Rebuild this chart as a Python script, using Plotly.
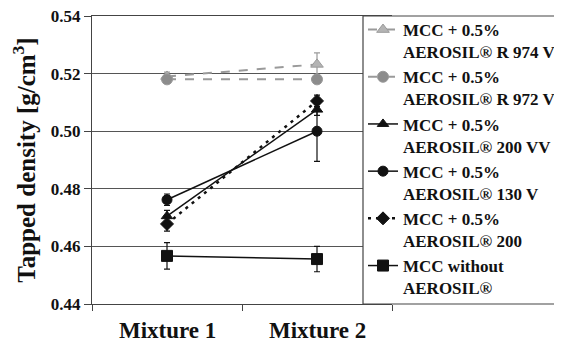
import plotly.graph_objects as go

categories = ["Mixture 1", "Mixture 2"]
x_pos = [0.5, 1.5]

series_names = [
    "MCC + 0.5%<br>AEROSIL® R 974 V",
    "MCC + 0.5%<br>AEROSIL® R 972 V",
    "MCC + 0.5%<br>AEROSIL® 200 VV",
    "MCC + 0.5%<br>AEROSIL® 130 V",
    "MCC + 0.5%<br>AEROSIL® 200",
    "MCC without<br>AEROSIL®",
]
r974v = [0.5190, 0.5232]
r974v_err = [0.0015, 0.0040]
r972v = [0.5180, 0.5180]
r972v_err = [0.0008, 0.0008]
a200vv = [0.4705, 0.5075]
a200vv_err = [0.0020, 0.0020]
a130v = [0.4762, 0.5000]
a130v_err = [0.0020, 0.0105]
a200 = [0.4678, 0.5105]
a200_err = [0.0025, 0.0020]
without = [0.4567, 0.4556]
without_err = [0.0046, 0.0044]

y_ticks = [0.44, 0.46, 0.48, 0.50, 0.52, 0.54]

styles = [
    dict(vals=r974v, err=r974v_err, color="#9a9a9a", mcolor="#b4b4b4", dash="dash", symbol="triangle-up", size=11, lw=2),
    dict(vals=r972v, err=r972v_err, color="#9a9a9a", mcolor="#8c8c8c", dash="dash", symbol="circle", size=11, lw=2),
    dict(vals=a200vv, err=a200vv_err, color="#111111", mcolor="#111111", dash="solid", symbol="triangle-up", size=10, lw=1.5),
    dict(vals=a130v, err=a130v_err, color="#111111", mcolor="#111111", dash="solid", symbol="circle", size=10, lw=1.5),
    dict(vals=a200, err=a200_err, color="#111111", mcolor="#111111", dash="3px,5px", symbol="diamond", size=10, lw=2.5),
    dict(vals=without, err=without_err, color="#111111", mcolor="#111111", dash="solid", symbol="square", size=11, lw=1.5),
]

fig = go.Figure()
for name, s in zip(series_names, styles):
    fig.add_trace(go.Scatter(
        x=x_pos, y=s["vals"], name=name, mode="lines+markers",
        line=dict(color=s["color"], width=s["lw"], dash=s["dash"]),
        marker=dict(symbol=s["symbol"], size=s["size"], color=s["mcolor"],
                    line=dict(color=s["color"], width=1)),
        error_y=dict(type="data", array=s["err"], visible=True,
                     color=s["color"], thickness=1.2, width=3),
        cliponaxis=False,
    ))

FF = "Liberation Serif"

# page body has an 8px margin, so the figure is offset by 8px
OFF = 8
W, H = 562 - OFF, 347 - OFF
L, T = 92 - OFF, 16 - OFF
R = W - (392 - OFF)
B = H - (304 - OFF)
PW = W - L - R
PH = H - T - B

# legend backdrop box (covers right part of plot area)
fig.add_shape(type="rect", xref="paper", yref="paper",
              x0=(363 - 92) / PW, x1=(575 - 92) / PW, y0=0, y1=1,
              fillcolor="white", line=dict(color="#444", width=1.2), layer="above")

for cx, lab in zip(x_pos, categories):
    fig.add_annotation(x=cx, y=0, xref="x", yref="paper", yshift=-26,
                       text=lab, showarrow=False, yanchor="middle",
                       font=dict(family=FF, size=23, color="#111", weight="bold"))

fig.update_layout(
    width=W, height=H,
    margin=dict(l=L, r=R, t=T, b=B, pad=0, autoexpand=False),
    paper_bgcolor="white", plot_bgcolor="white",
    font=dict(family=FF, color="#111"),
    showlegend=True,
    legend=dict(x=(363 - 92) / PW, y=1, xanchor="left", yanchor="top",
                bgcolor="rgba(0,0,0,0)", borderwidth=0, valign="top",
                font=dict(family=FF, size=17, color="#111", weight="bold"),
                itemwidth=30),
    xaxis=dict(range=[0, 2], tickvals=[0, 1, 2], ticktext=["", "", ""],
               showgrid=False, zeroline=False, showline=True, linecolor="#444",
               linewidth=1.2, ticks="outside", ticklen=6, tickcolor="#444",
               mirror=True, fixedrange=True, automargin=False),
    yaxis=dict(range=[0.44, 0.54], tickvals=y_ticks, tickformat=".2f",
               showgrid=True, gridcolor="#555", gridwidth=1, zeroline=False,
               showline=True, linecolor="#444", linewidth=1.2,
               ticks="outside", ticklen=7, tickcolor="#444",
               ticklabeloverflow="allow",
               tickfont=dict(family=FF, size=17, color="#111", weight="bold"),
               title=dict(text="Tapped density [g/cm<sup>3</sup>]",
                          font=dict(family=FF, size=25, color="#111", weight="bold"),
                          standoff=10),
               fixedrange=True, automargin=False),
)

# raise the legend slightly if the library allows an explicit max height
try:
    fig.update_layout(legend_maxheight=400)
    fig.update_layout(legend_y=1 + 4 / PH)
except ValueError:
    pass

fig.write_html("out.html")
